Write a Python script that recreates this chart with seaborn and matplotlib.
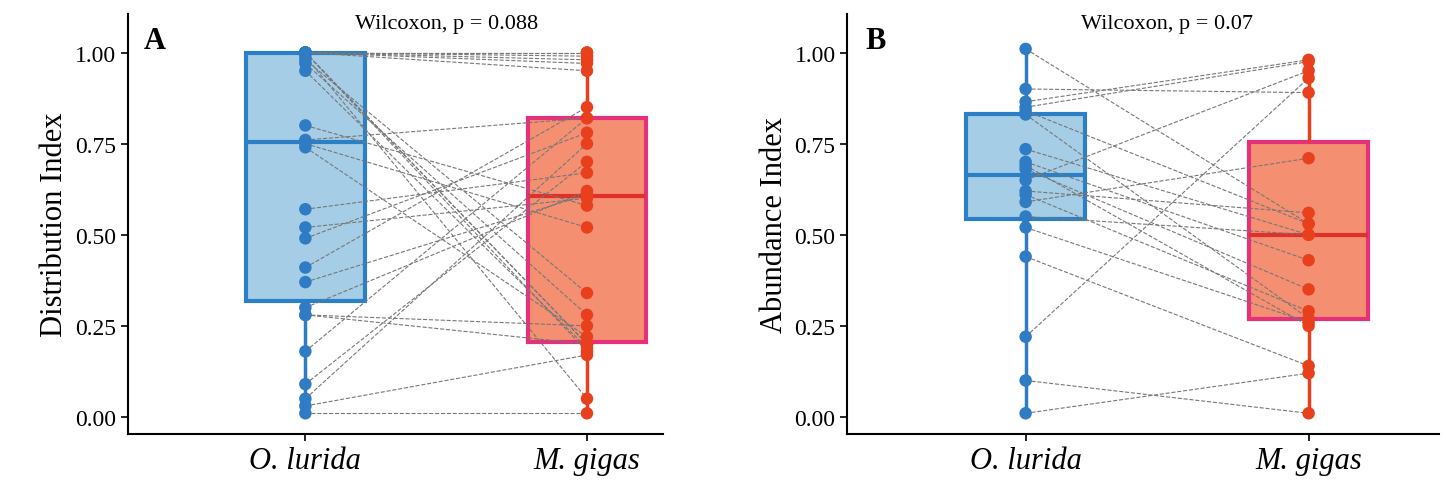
import pandas as pd
import matplotlib
matplotlib.use("Agg")
import matplotlib.pyplot as plt
import seaborn as sns

species = ["O. lurida", "M. gigas"]

# panel A pairs (distribution index)
dist_lurida = [0.01, 0.03, 0.05, 0.09, 0.18, 0.28, 0.28, 0.30, 0.37, 0.41, 0.49, 0.52, 0.57, 0.74, 0.75,
               0.76, 0.80, 0.95, 0.97, 0.98, 0.99, 1.0, 1.0, 1.0, 1.0, 1.0, 1.0, 1.0, 1.0, 1.0]
dist_gigas = [0.01, 0.17, 0.75, 0.70, 0.82, 0.20, 0.25, 0.62, 0.61, 0.85, 0.78, 0.60, 0.67, 0.22, 0.52,
              0.82, 0.58, 0.19, 0.28, 0.34, 0.05, 1.0, 0.99, 0.98, 0.97, 0.95, 0.20, 0.20, 0.18, 1.0]

# panel B pairs (abundance index)
abun_lurida = [0.01, 0.10, 0.22, 0.44, 0.52, 0.55, 0.59, 0.61, 0.62, 0.65,
               0.68, 0.69, 0.70, 0.735, 0.83, 0.84, 0.85, 0.865, 0.90, 1.01]
abun_gigas = [0.12, 0.01, 0.93, 0.14, 0.26, 0.50, 0.71, 0.29, 0.56, 0.95,
              0.35, 0.25, 0.43, 0.50, 0.27, 0.53, 0.975, 0.98, 0.89, 0.53]

fills = ["#a6cde6", "#f58f72"]
edges = ["#2b7fc6", "#e5307a"]
medians = ["#2b7fc6", "#e0302a"]
dots = ["#2f7cc4", "#e8401c"]

sns.set_style("white")
plt.rcParams["font.family"] = ["Liberation Serif", "DejaVu Serif"]
plt.rcParams["text.color"] = "black"
plt.rcParams["axes.labelcolor"] = "black"
plt.rcParams["xtick.color"] = "black"
plt.rcParams["ytick.color"] = "black"

fig = plt.figure(figsize=(14.46, 4.85), dpi=100)
axA = fig.add_axes([0.0885, 0.103, 0.37, 0.867])
axB = fig.add_axes([0.586, 0.103, 0.409, 0.867])


def panel(ax, a, b, ylabel, letter, ptext, xmax):
    df = pd.DataFrame({"sp": [species[0]] * len(a) + [species[1]] * len(b), "v": a + b})
    for i, s in enumerate(species):
        sns.boxplot(data=df[df.sp == s], x="sp", y="v", order=species, color=fills[i],
                    linecolor=edges[i], whis=(0, 100), width=0.42, linewidth=3, fill=True,
                    saturation=1, showfliers=False, ax=ax,
                    medianprops=dict(color=medians[i], linewidth=3),
                    whiskerprops=dict(color=dots[i], linewidth=2.5),
                    capprops=dict(linewidth=0))
    for y0, y1 in zip(a, b):
        ax.plot([0, 1], [y0, y1], ls="--", color="#777777", lw=0.8, zorder=3)
    sns.stripplot(data=df, x="sp", y="v", order=species, hue="sp", palette=dots, jitter=False,
                  size=9, legend=False, ax=ax, zorder=4)
    ax.set_xlim(-0.63, xmax)
    ax.set_ylim(-0.047, 1.107)
    ax.set_yticks([0, 0.25, 0.5, 0.75, 1.0])
    ax.set_yticklabels(["0.00", "0.25", "0.50", "0.75", "1.00"], fontsize=17)
    ax.set_xticks([0, 1])
    ax.set_xticklabels(species, fontsize=22, style="italic")
    ax.set_xlabel("")
    ax.set_ylabel(ylabel, fontsize=22)
    for sp in ["top", "right"]:
        ax.spines[sp].set_visible(False)
    for sp in ["left", "bottom"]:
        ax.spines[sp].set_linewidth(1.5)
        ax.spines[sp].set_color("black")
    ax.tick_params(axis="both", length=5, width=1.2, left=True, bottom=True)
    ax.text(0.03, 0.97, letter, transform=ax.transAxes, fontsize=22, fontweight="bold", va="top")
    ax.text(0.5, 1.107, ptext, transform=ax.transData, fontsize=16, ha="center", va="top")


panel(axA, dist_lurida, dist_gigas, "Distribution Index", "A", "Wilcoxon, p = 0.088", 1.27)
panel(axB, abun_lurida, abun_gigas, "Abundance Index", "B", "Wilcoxon, p = 0.07", 1.46)

fig.savefig("out.png", dpi=100)
